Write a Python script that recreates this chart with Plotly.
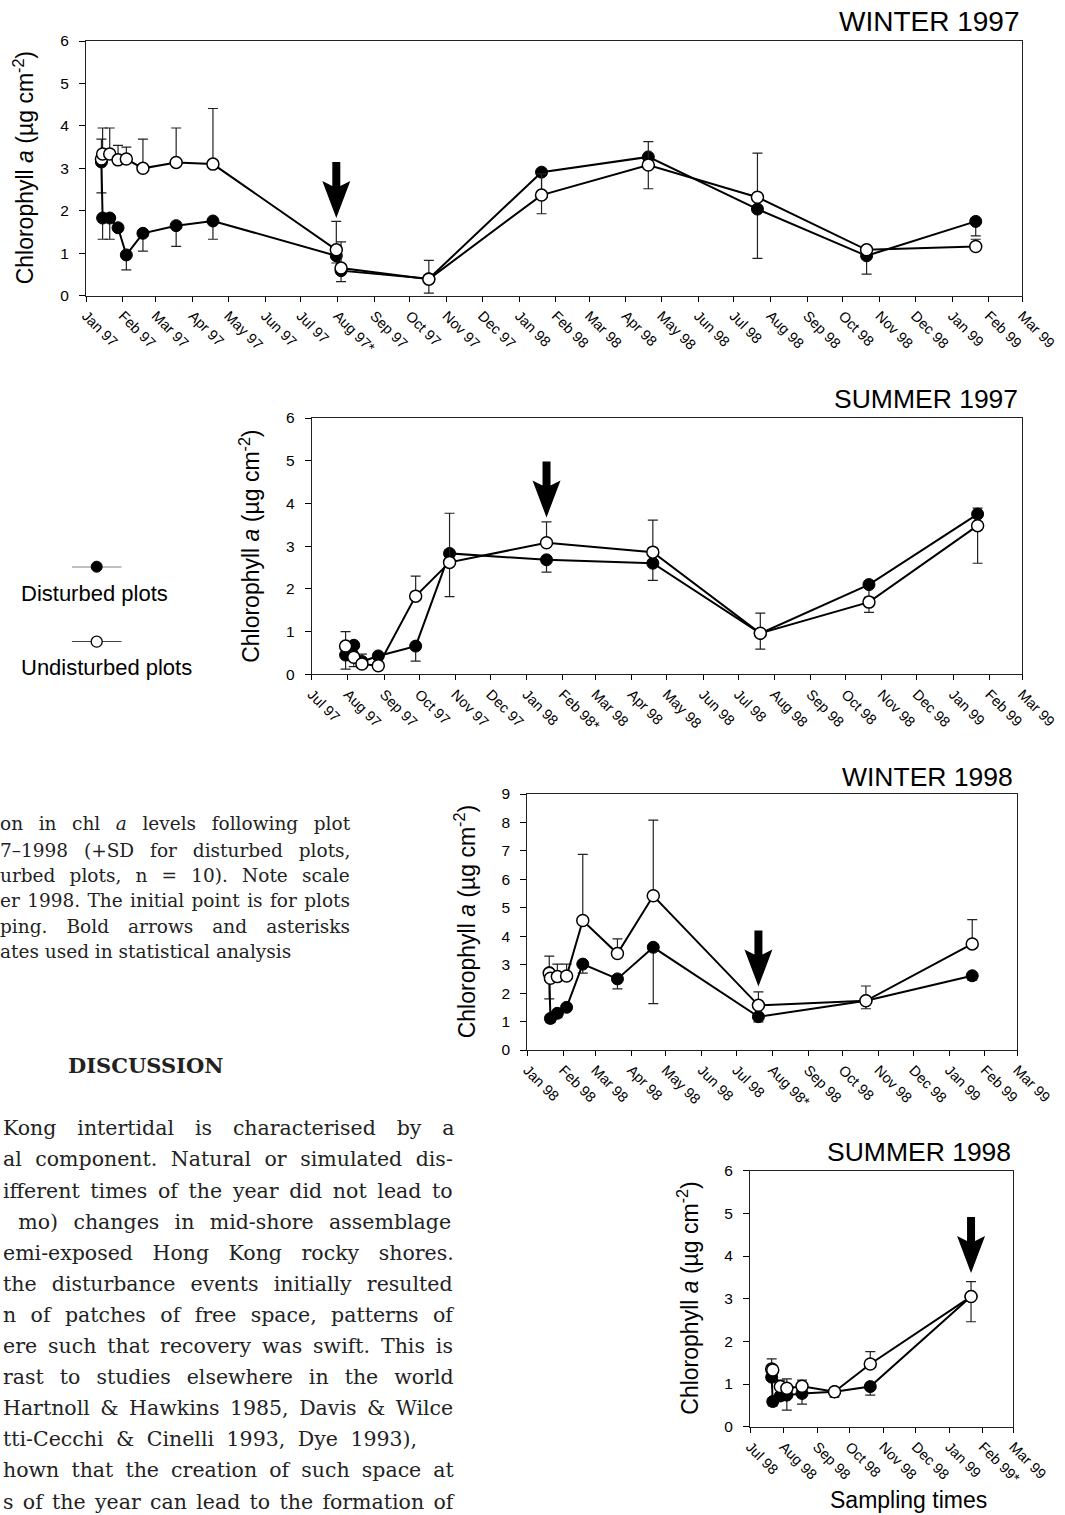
import plotly.graph_objects as go
import pandas as pd

# ------------------------------------------------------------------ data
# WINTER 1997
w97_dates = ["1997-01-14", "1997-01-15", "1997-01-21", "1997-01-28", "1997-02-04", "1997-02-18",
             "1997-03-18", "1997-04-18", "1997-07-31", "1997-08-04", "1997-10-17", "1998-01-20",
             "1998-04-20", "1998-07-21", "1998-10-21", "1999-01-21"]
w97_dist = [3.15, 1.83, 1.83, 1.60, 0.96, 1.47, 1.65, 1.76, 0.94, 0.59, 0.40, 2.91, 3.27, 2.04, 0.94, 1.75]
w97_dist_sd_lo = [0.73, 0.50, 0.50, 0.00, 0.35, 0.42, 0.49, 0.43, 0.17, 0.26, 0.34, 0.98, 0.75, 1.16, 0.43, 0.34]
w97_undist = [3.22, 3.34, 3.34, 3.20, 3.22, 3.00, 3.14, 3.10, 1.08, 0.65, 0.39, 2.37, 3.08, 2.32, 1.08, 1.16]
w97_undist_sd_hi = [0.47, 0.61, 0.61, 0.34, 0.28, 0.69, 0.81, 1.31, 0.67, 0.62, 0.44, 0.50, 0.55, 1.04, 0.00, 0.17]

# SUMMER 1997
s97_dates = ["1997-07-30", "1997-08-06", "1997-08-13", "1997-08-27", "1997-09-28", "1997-10-27",
             "1998-01-18", "1998-04-19", "1998-07-20", "1998-10-21", "1999-01-22"]
s97_dist = [0.45, 0.68, 0.30, 0.43, 0.66, 2.83, 2.68, 2.60, 0.96, 2.10, 3.75]
s97_dist_sd_lo = [0.33, 0.50, 0.15, 0.20, 0.35, 1.01, 0.29, 0.40, 0.37, 0.30, 0.00]
s97_dist_sd_hi = [0.00, 0.00, 0.00, 0.00, 0.00, 0.00, 0.00, 0.00, 0.00, 0.00, 0.14]
s97_undist = [0.66, 0.40, 0.24, 0.20, 1.83, 2.62, 3.08, 2.86, 0.96, 1.69, 3.48]
s97_undist_sd_hi = [0.34, 0.00, 0.23, 0.00, 0.47, 1.15, 0.49, 0.75, 0.47, 0.00, 0.00]
s97_undist_sd_lo = [0.00, 0.00, 0.00, 0.00, 0.00, 0.00, 0.00, 0.00, 0.00, 0.24, 0.88]

# WINTER 1998
w98_dates = ["1998-01-20", "1998-01-21", "1998-01-27", "1998-02-04", "1998-02-18", "1998-03-20",
             "1998-04-20", "1998-07-20", "1998-10-21", "1999-01-21"]
w98_dist = [2.72, 1.11, 1.29, 1.50, 3.02, 2.50, 3.61, 1.17, 1.73, 2.61]
w98_dist_sd_lo = [0.92, 0.15, 0.15, 0.10, 0.32, 0.35, 1.98, 0.18, 0.28, 0.15]
w98_undist = [2.70, 2.52, 2.58, 2.60, 4.55, 3.39, 5.42, 1.57, 1.73, 3.73]
w98_undist_sd_hi = [0.60, 0.00, 0.44, 0.42, 2.33, 0.52, 2.66, 0.47, 0.52, 0.85]

# SUMMER 1998
s98_dates = ["1998-07-21", "1998-07-22", "1998-07-29", "1998-08-04", "1998-08-18", "1998-09-17",
             "1998-10-20", "1999-01-21"]
s98_dist = [1.16, 0.59, 0.72, 0.74, 0.78, 0.82, 0.94, 3.05]
s98_dist_sd_lo = [0.00, 0.10, 0.10, 0.35, 0.25, 0.13, 0.20, 0.59]
s98_undist = [1.35, 1.33, 0.94, 0.90, 0.95, 0.82, 1.47, 3.05]
s98_undist_sd_hi = [0.24, 0.00, 0.15, 0.22, 0.14, 0.00, 0.29, 0.35]

panel_titles = ["WINTER 1997", "SUMMER 1997", "WINTER 1998", "SUMMER 1998"]
x_starts = ["1997-01-01", "1997-07-01", "1998-01-01", "1998-07-01"]
x_end = "1999-03-01"
starred_months = ["1997-08", "1998-02", "1998-08", "1999-02"]
y_max = [6, 6, 9, 6]
arrow_dates = ["1997-07-31", "1998-01-18", "1998-07-20", "1999-01-21"]
arrow_tips = [1.83, 3.67, 2.23, 3.60]
series_names = ["Disturbed plots", "Undisturbed plots"]
y_title = "Chlorophyll <i>a</i> (µg cm<sup>-2</sup>)"
x_title = "Sampling times"

caption_lines = [
    "on in chl <i>a</i> levels following plot",
    "7\u20131998 (+SD for disturbed plots,",
    "urbed plots, n = 10). Note scale",
    "er 1998. The initial point is for plots",
    "ping. Bold arrows and asterisks",
    "ates used in statistical analysis",
]
heading = "DISCUSSION"
body_lines = [
    "Kong intertidal is characterised by a",
    "al component. Natural or simulated dis-",
    "ifferent times of the year did not lead to",
    " mo) changes in mid-shore assemblage",
    "emi-exposed Hong Kong rocky shores.",
    "the disturbance events initially resulted",
    "n of patches of free space, patterns of",
    "ere such that recovery was swift. This is",
    "rast to studies elsewhere in the world",
    "Hartnoll &amp; Hawkins 1985, Davis &amp; Wilce",
    "tti-Cecchi &amp; Cinelli 1993, Dye 1993),",
    "hown that the creation of such space at",
    "s of the year can lead to the formation of",
]

# ------------------------------------------------------------------ layout helpers
W, H = 1065, 1515
def fx(p):
    return p / W
def fy(p):
    return 1 - p / H

SANS = "Liberation Sans, Arial, sans-serif"
SERIF = "DejaVu Serif, serif"

panel_px = [  # (x0, x1, ytop, ybottom)
    (86, 1022, 41, 295.7),
    (311.7, 1022, 418, 674.3),
    (527.3, 1017.3, 794, 1050),
    (750, 1013.3, 1170.7, 1426.7),
]
title_pos = [(1022, 22), (1020, 399), (1015, 777), (1013, 1152)]
title_size = [28, 26.5, 26.5, 26.5]
# extra word spacing (px) used to imitate the justified text columns
caption_spacing = [9.7, 10, 8.3, 1.5, 13.2, 0]
body_spacing = [14.4, 7, 4.2, 8.8, 13, 8.7, 7.9, 4.4, 9.5, 4, 6, 5.6, 2.8]

panels = [
    dict(dates=w97_dates, dist=w97_dist, dlo=w97_dist_sd_lo, dhi=None,
         und=w97_undist, uhi=w97_undist_sd_hi, ulo=None),
    dict(dates=s97_dates, dist=s97_dist, dlo=s97_dist_sd_lo, dhi=s97_dist_sd_hi,
         und=s97_undist, uhi=s97_undist_sd_hi, ulo=s97_undist_sd_lo),
    dict(dates=w98_dates, dist=w98_dist, dlo=w98_dist_sd_lo, dhi=None,
         und=w98_undist, uhi=w98_undist_sd_hi, ulo=None),
    dict(dates=s98_dates, dist=s98_dist, dlo=s98_dist_sd_lo, dhi=None,
         und=s98_undist, uhi=s98_undist_sd_hi, ulo=None),
]

ARROW_PATH = "M0,0 L-14,37 L-4,32 L-4,56 L4,56 L4,32 L14,37 Z"

fig = go.Figure()
layout = dict(template="none", width=W, height=H, margin=dict(l=0, r=0, t=0, b=0, pad=0),
              autosize=False,
              paper_bgcolor="white", plot_bgcolor="white", showlegend=False,
              font=dict(family=SANS, color="black"))
annotations = []
shapes = []

for i, p in enumerate(panels):
    n = "" if i == 0 else str(i + 1)
    xa, ya = "x" + n, "y" + n
    zeros = [0] * len(p["dates"])
    fig.add_trace(go.Scatter(
        x=p["dates"], y=p["dist"], xaxis=xa, yaxis=ya, mode="lines+markers",
        name=series_names[0],
        line=dict(color="black", width=2),
        marker=dict(symbol="circle", size=12, color="black", line=dict(color="black", width=1)),
        error_y=dict(type="data", symmetric=False, array=p["dhi"] or zeros, arrayminus=p["dlo"],
                     color="#222", thickness=1.2, width=5)))
    fig.add_trace(go.Scatter(
        x=p["dates"], y=p["und"], xaxis=xa, yaxis=ya, mode="lines+markers",
        name=series_names[1],
        line=dict(color="black", width=2),
        marker=dict(symbol="circle", size=12, color="white", line=dict(color="black", width=1.5)),
        error_y=dict(type="data", symmetric=False, array=p["uhi"], arrayminus=p["ulo"] or zeros,
                     color="#222", thickness=1.2, width=5)))

    x0, x1, yt, yb = panel_px[i]
    months = pd.date_range(x_starts[i], x_end, freq="MS")
    tickvals = [d.strftime("%Y-%m-%d") for d in months]
    ticktext = [d.strftime("%b %y") + ("*" if d.strftime("%Y-%m") == starred_months[i] else "")
                for d in months]
    layout["xaxis" + n] = dict(
        domain=[fx(x0), fx(x1)], anchor=ya, type="date", range=[x_starts[i], x_end],
        automargin=False,
        tickmode="array", tickvals=tickvals, ticktext=ticktext, tickangle=45,
        ticks="outside", ticklen=5, tickcolor="black", tickwidth=1,
        showline=True, linecolor="#222", linewidth=1, mirror=True,
        showgrid=False, zeroline=False, tickfont=dict(size=14.5, color="black", family=SANS))
    layout["yaxis" + n] = dict(
        domain=[fy(yb), fy(yt)], anchor=xa, range=[0, y_max[i]],
        automargin=False,
        tickmode="array", tickvals=list(range(y_max[i] + 1)),
        ticks="outside", ticklen=6, tickcolor="black", tickwidth=1, ticklabelstandoff=7,
        showline=True, linecolor="#222", linewidth=1, mirror=True,
        showgrid=False, zeroline=False, tickfont=dict(size=15.5, color="black", family=SANS))

    # panel title
    tx, ty = title_pos[i]
    annotations.append(dict(text=panel_titles[i], xref="paper", yref="paper", x=fx(tx), y=fy(ty),
                            xanchor="right", yanchor="middle", showarrow=False,
                            font=dict(size=title_size[i], family=SANS, color="black")))
    # y title
    annotations.append(dict(text=y_title, xref="paper", yref="paper", x=fx(x0 - 62), y=fy((yt + yb) / 2),
                            xanchor="center", yanchor="middle", textangle=-90, showarrow=False,
                            font=dict(size=23, family=SANS, color="black")))
    # bold arrow
    shapes.append(dict(type="path", xref=xa, yref=ya, xsizemode="pixel", ysizemode="pixel",
                       xanchor=arrow_dates[i], yanchor=arrow_tips[i], path=ARROW_PATH,
                       fillcolor="black", line=dict(width=0), layer="above"))

# x title on the last panel
annotations.append(dict(text=x_title, xref="paper", yref="paper", x=fx(908), y=fy(1500),
                        xanchor="center", yanchor="middle", showarrow=False,
                        font=dict(size=23, family=SANS, color="black")))

# legend (symbol above text)
legend_text_y = [593, 667]
layout["xaxis5"] = dict(domain=[fx(71.7), fx(121.7)], range=[0, 1], visible=False, anchor="y5",
                        automargin=False)
layout["yaxis5"] = dict(domain=[fy(641.7), fy(566.7)], range=[0, 1], visible=False, anchor="x5",
                        automargin=False)
for k, (fill, lw) in enumerate([("black", 1), ("white", 1.3)]):
    yy = 1 - k
    fig.add_trace(go.Scatter(x=[0, 1], y=[yy, yy], xaxis="x5", yaxis="y5", mode="lines",
                             line=dict(color="black", width=1.2), hoverinfo="skip"))
    fig.add_trace(go.Scatter(x=[0.5], y=[yy], xaxis="x5", yaxis="y5", mode="markers",
                             marker=dict(size=11, color=fill, line=dict(color="black", width=lw)),
                             cliponaxis=False, hoverinfo="skip"))
    annotations.append(dict(text=series_names[k], xref="paper", yref="paper", x=fx(19),
                            y=fy(legend_text_y[k]), xanchor="left", yanchor="middle", showarrow=False,
                            font=dict(size=22, family=SANS, color="black")))

# caption text
cap_y = [823.3, 850, 875, 900, 926, 951.7]
for t, yy, ws in zip(caption_lines, cap_y, caption_spacing):
    annotations.append(dict(text='<span style="word-spacing:%spx">%s</span>' % (ws, t),
                            xref="paper", yref="paper", x=fx(-2), y=fy(yy),
                            xanchor="left", yanchor="middle", showarrow=False,
                            font=dict(size=18.5, family=SERIF, color="#222")))

annotations.append(dict(text="<b>" + heading + "</b>", xref="paper", yref="paper", x=fx(145), y=fy(1065),
                        xanchor="center", yanchor="middle", showarrow=False,
                        font=dict(size=21, family=SERIF, color="#222")))
for j, (t, ws) in enumerate(zip(body_lines, body_spacing)):
    yy = 1128.3 + j * 31.1
    annotations.append(dict(text='<span style="word-spacing:%spx">%s</span>' % (ws, t),
                            xref="paper", yref="paper", x=fx(1), y=fy(yy),
                            xanchor="left", yanchor="middle", showarrow=False,
                            font=dict(size=20.5, family=SERIF, color="#222")))

layout["annotations"] = annotations
layout["shapes"] = shapes
fig.update_layout(**layout)
fig.write_html("out.html")
